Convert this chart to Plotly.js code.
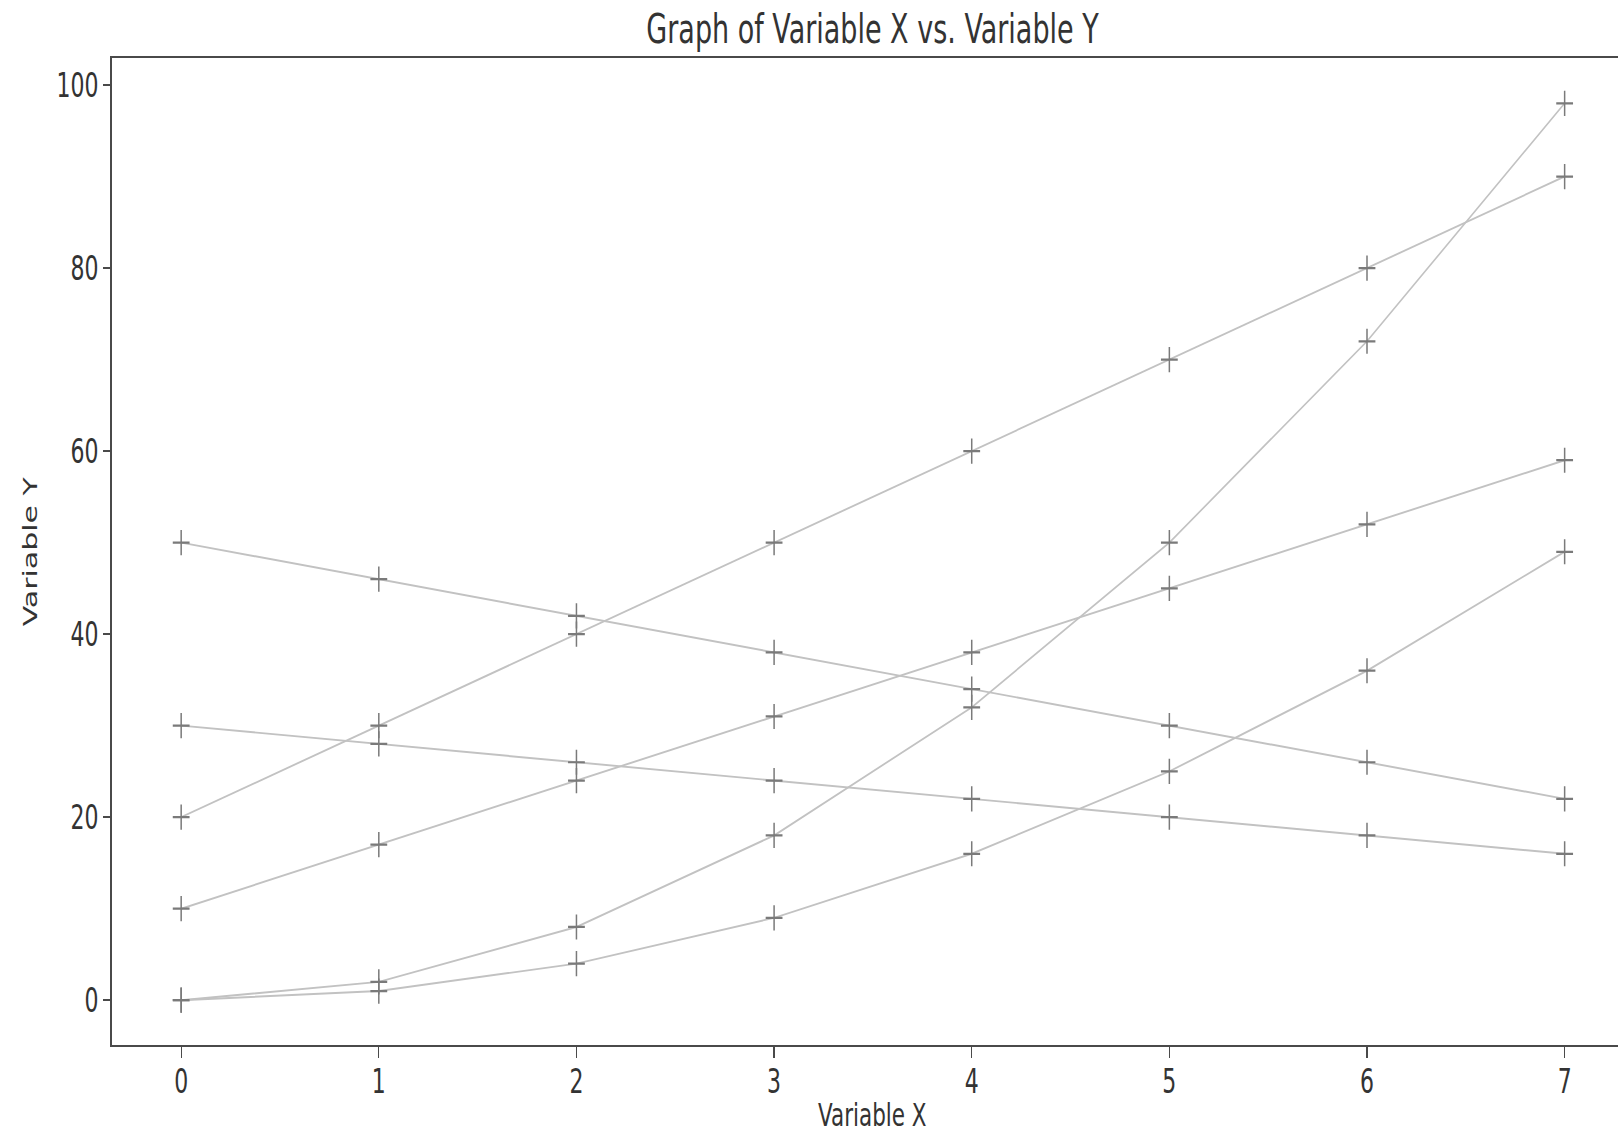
<!DOCTYPE html>
<html>
<head>
<meta charset="utf-8">
<script src="https://cdn.plot.ly/plotly-3.0.1.min.js"></script>
<style>
  html, body { margin: 0; padding: 0; background: #ffffff; overflow: hidden; }
  #wrap { width: 1618px; height: 1135px; overflow: hidden; }
  #plot { width: 1618px; height: 757px; transform: scale(1, 1.49934); transform-origin: 0 0; }
</style>
</head>
<body>
<div id="wrap"><div id="plot"></div></div>
<script>
// Data
const xValues = [0, 1, 2, 3, 4, 5, 6, 7];
const seriesLinearUp   = [20, 30, 40, 50, 60, 70, 80, 90];
const seriesDoubleSq   = [0, 2, 8, 18, 32, 50, 72, 98];
const seriesSquare     = [0, 1, 4, 9, 16, 25, 36, 49];
const seriesDownSteep  = [50, 46, 42, 38, 34, 30, 26, 22];
const seriesDownGentle = [30, 28, 26, 24, 22, 20, 18, 16];
const seriesLinearMid  = [10, 17, 24, 31, 38, 45, 52, 59];
const yTickValues = [0, 20, 40, 60, 80, 100];
const xTickValues = [0, 1, 2, 3, 4, 5, 6, 7];

const allSeries = [seriesLinearUp, seriesDoubleSq, seriesSquare, seriesDownSteep, seriesDownGentle, seriesLinearMid];

const traces = allSeries.map(function (ys) {
  return {
    x: xValues,
    y: ys,
    type: 'scatter',
    mode: 'lines+markers',
    line: { color: '#c2c2c2', width: 1.3 },
    marker: { symbol: 'cross-thin', size: 12, line: { color: '#7a7a7a', width: 1.5 } },
    hoverinfo: 'skip',
    showlegend: false
  };
});

const fontFam = 'DejaVu Sans, sans-serif';

const layout = {
  width: 1618,
  height: 757,
  margin: { l: 112, r: 0, t: 39, b: 60, pad: 0 },
  paper_bgcolor: '#ffffff',
  plot_bgcolor: '#ffffff',
  font: { family: fontFam, color: '#333333', size: 22 },
  title: {
    text: 'Graph of Variable X vs. Variable Y',
    font: { family: fontFam, size: 27, color: '#333333' },
    x: 0.505, xref: 'paper', xanchor: 'center',
    y: 1 - 19.5 / 757, yref: 'container', yanchor: 'middle'
  },
  xaxis: {
    range: [-0.35, 7.27],
    tickmode: 'array',
    tickvals: xTickValues,
    ticktext: xTickValues.map(String),
    ticks: 'outside', ticklen: 7, tickwidth: 1.3, tickcolor: '#4a4a4a',
    ticklabelstandoff: -3,
    showgrid: false, zeroline: false,
    showline: true, linecolor: '#4a4a4a', linewidth: 1.4, mirror: true,
    tickfont: { family: fontFam, size: 22, color: '#333333' },
    fixedrange: true
  },
  yaxis: {
    range: [-4.9, 102.9],
    tickmode: 'array',
    tickvals: yTickValues,
    ticktext: yTickValues.map(String),
    ticks: 'outside', ticklen: 7, tickwidth: 1.3, tickcolor: '#4a4a4a',
    showgrid: false, zeroline: false,
    showline: true, linecolor: '#4a4a4a', linewidth: 2, mirror: false,
    tickfont: { family: fontFam, size: 22, color: '#333333' },
    title: { text: 'Variable Y', font: { family: fontFam, size: 20, color: '#333333' }, standoff: 14 },
    fixedrange: true
  },
  annotations: [{
    text: 'Variable X',
    xref: 'paper', yref: 'paper',
    x: 0.505, y: -0.070,
    xanchor: 'center', yanchor: 'middle',
    showarrow: false,
    font: { family: fontFam, size: 21.5, color: '#333333' }
  }]
};

Plotly.newPlot('plot', traces, layout, { displayModeBar: false, staticPlot: true });
</script>
</body>
</html>
